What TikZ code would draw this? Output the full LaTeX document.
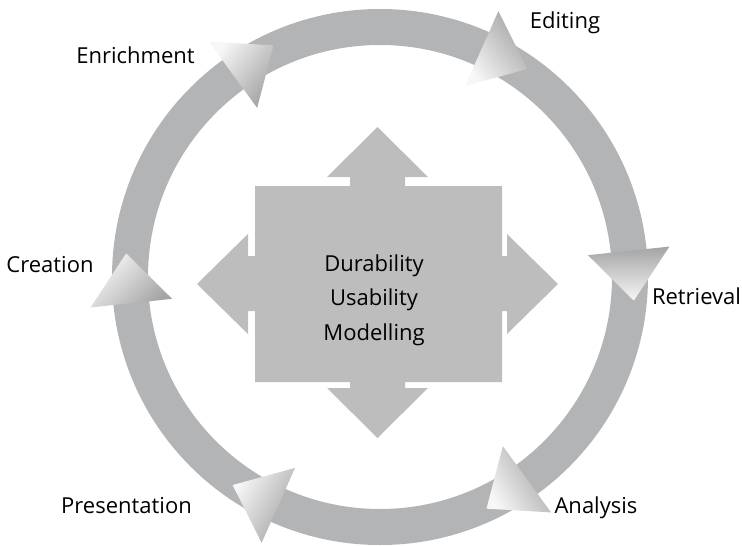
\documentclass[tikz,border=0pt]{standalone}
\usepackage{fontspec}
\setmainfont{Open Sans}
\usepackage{xcolor}
\usepackage{tikz}
\definecolor{ringgray}{HTML}{B3B4B6}
\definecolor{coregray}{HTML}{BDBDBD}
\definecolor{tipgray}{HTML}{A4A4A4}
\tikzset{
  lbl/.style={anchor=base,inner sep=0pt,font=\fontsize{22}{34.5}\selectfont},
  tip/.style={top color=white!97!black,bottom color=tipgray}
}

\begin{document}
\begin{tikzpicture}[x=1pt,y=-1pt]
\useasboundingbox (0,0) rectangle (742,546);
% the cycle
\draw[ringgray,line width=36pt] (380,277) circle (250pt);
\foreach \a/\s in {6/180,66/128,126/52,186/45,246/60,306/120}
  \shade[tip,shading angle=\s]
    ({380+291*cos(\a)},{277-291*sin(\a)})
    -- ({380+250*cos(\a)+50*sin(\a)},{277-250*sin(\a)+50*cos(\a)})
    -- ({380+209*cos(\a)},{277-209*sin(\a)}) -- cycle;
% centre block with four arrows
\fill[coregray] (377.5,127) -- (428,177) -- (405,177) -- (405,186) -- (502,186)
  -- (502,256) -- (507,256) -- (507,234) -- (558,284) -- (507,334) -- (507,311)
  -- (502,311) -- (502,382) -- (405,382) -- (405,388) -- (428,388) -- (377.5,438)
  -- (327,388) -- (350,388) -- (350,382) -- (255,382) -- (255,311) -- (248,311)
  -- (248,334) -- (197,284) -- (248,234) -- (248,256) -- (255,256) -- (255,186)
  -- (350,186) -- (350,177) -- (327,177) -- cycle;
\node[lbl,align=center] (core) at (374,340) {Durability\\Usability\\Modelling};
% stage labels
\node[lbl] (enrich) at (135.5,63) {Enrichment};
\node[lbl] (edit) at (565,28) {Editing};
\node[lbl] (retr) at (696.5,304) {Retrieval};
\node[lbl] (anal) at (596,513) {Analysis};
\node[lbl] (pres) at (126.5,513) {Presentation};
\node[lbl] (creat) at (50,272) {Creation};
\end{tikzpicture}
\end{document}
